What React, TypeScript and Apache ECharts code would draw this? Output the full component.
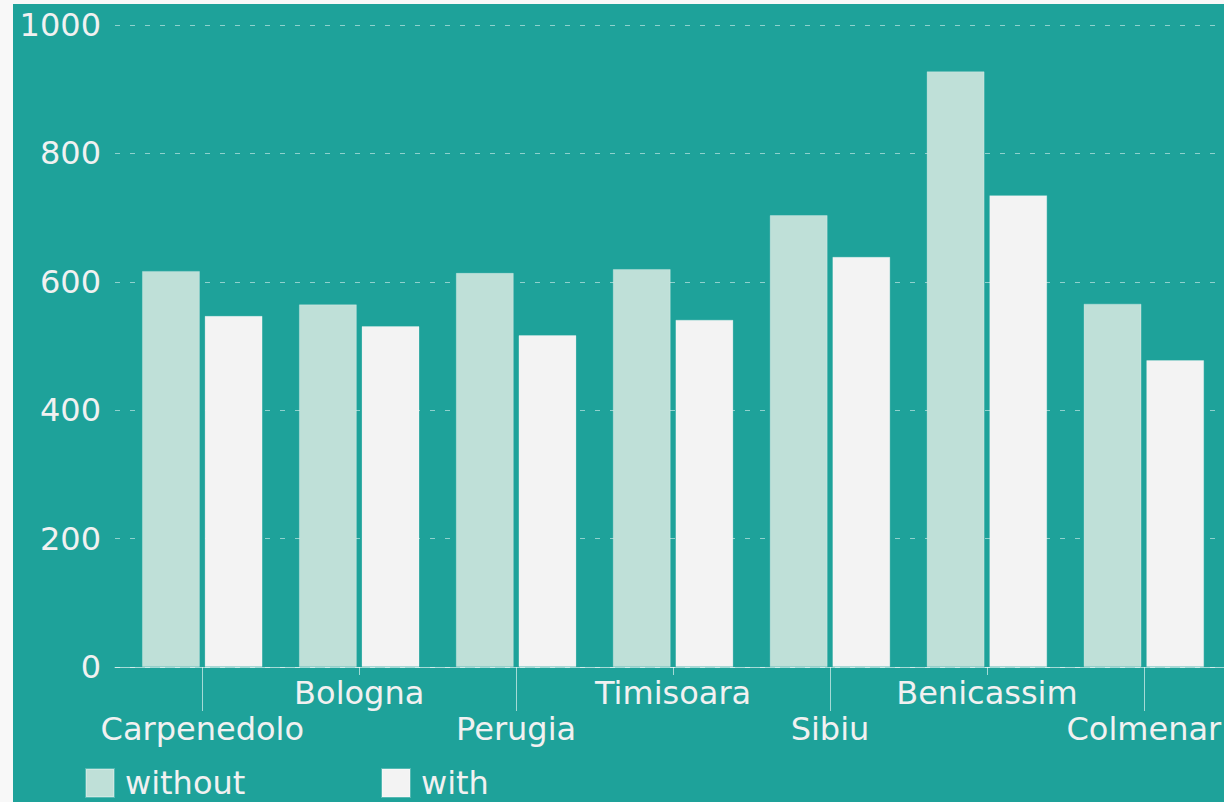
import React, { useEffect, useRef } from "react";
import * as echarts from "echarts";

const categories = ["Carpenedolo", "Bologna", "Perugia", "Timisoara", "Sibiu", "Benicassim", "Colmenar"];
const withoutValues = [617, 565, 614, 620, 704, 928, 566];
const withValues = [547, 531, 517, 541, 639, 735, 478];
const yTicks = { min: 0, max: 1000, interval: 200 };

const BG = "#1ea29a";
const TEXT = "#f1f1f1";
const FONT = "DejaVu Sans";
const FS = 32;

export default function App() {
  const ref = useRef<HTMLDivElement>(null);
  useEffect(() => {
    if (!ref.current) return;
    const chart = echarts.init(ref.current, null, { renderer: "svg" });
    const even = (i: number) => i % 2 === 0;
    const odd = (i: number) => i % 2 === 1;
    const legendBase = {
      top: 763,
      padding: 0,
      itemWidth: 28,
      itemHeight: 28,
      icon: "rect",
      textStyle: { color: TEXT, fontSize: FS, fontFamily: FONT, padding: [0, 0, 0, 6] },
    };
    chart.setOption({
      animation: false,
      backgroundColor: BG,
      textStyle: { fontFamily: FONT },
      legend: [
        { ...legendBase, data: ["without"], left: 72 },
        { ...legendBase, data: ["with"], left: 368 },
      ],
      grid: [
        { left: 102, right: 0, top: 21, bottom: 135, containLabel: false },
        { left: 110.8, right: -1.5, top: 21, bottom: 135, containLabel: false },
      ],
      xAxis: [
        {
          gridIndex: 0,
          type: "value",
          min: 0,
          max: 1,
          axisLine: { show: true, lineStyle: { color: "rgba(255,255,255,0.6)", width: 1 } },
          axisTick: { show: false },
          axisLabel: { show: false },
          splitLine: { show: false },
        },
        {
          gridIndex: 1,
          type: "category",
          position: "bottom",
          data: categories,
          axisLine: { show: false },
          axisTick: {
            show: true,
            alignWithLabel: true,
            interval: even,
            length: 44,
            lineStyle: { color: "rgba(255,255,255,0.6)" },
          },
          axisLabel: { interval: even, margin: 46, color: TEXT, fontSize: FS, fontFamily: FONT },
        },
        {
          gridIndex: 1,
          type: "category",
          position: "bottom",
          offset: 0,
          data: categories,
          axisLine: { show: false },
          axisTick: {
            show: true,
            alignWithLabel: true,
            interval: odd,
            length: 8,
            lineStyle: { color: "rgba(255,255,255,0.6)" },
          },
          axisLabel: { interval: odd, margin: 10, color: TEXT, fontSize: FS, fontFamily: FONT },
        },
      ],
      yAxis: [
        {
          gridIndex: 0,
          type: "value",
          min: yTicks.min,
          max: yTicks.max,
          interval: yTicks.interval,
          axisLine: { show: false },
          axisTick: { show: false },
          axisLabel: {
            color: TEXT,
            fontSize: FS,
            fontFamily: FONT,
            margin: 14,
            formatter: (v: number) => String(v),
          },
          splitLine: {
            show: true,
            lineStyle: { color: "rgba(255,255,255,0.5)", type: [5, 10], width: 1 },
          },
        },
        {
          gridIndex: 1,
          type: "value",
          min: yTicks.min,
          max: yTicks.max,
          show: false,
          splitLine: { show: false },
        },
      ],
      series: [
        {
          name: "without",
          type: "bar",
          xAxisIndex: 1,
          yAxisIndex: 1,
          data: withoutValues,
          barWidth: 58,
          barGap: "8%",
          itemStyle: { color: "#bfe0d8", borderColor: "rgba(255,255,255,0.25)", borderWidth: 1 },
        },
        {
          name: "with",
          type: "bar",
          xAxisIndex: 1,
          yAxisIndex: 1,
          data: withValues,
          barWidth: 58,
          barGap: "8%",
          itemStyle: { color: "#f3f3f3", borderColor: "rgba(255,255,255,0.25)", borderWidth: 1 },
        },
      ],
    });
    return () => chart.dispose();
  }, []);
  return (
    <div style={{ position: "fixed", inset: 0, background: "#f8f8f8", overflow: "hidden" }}>
      <div ref={ref} style={{ position: "absolute", left: 13, top: 4, width: 1211, height: 798 }} />
    </div>
  );
}
